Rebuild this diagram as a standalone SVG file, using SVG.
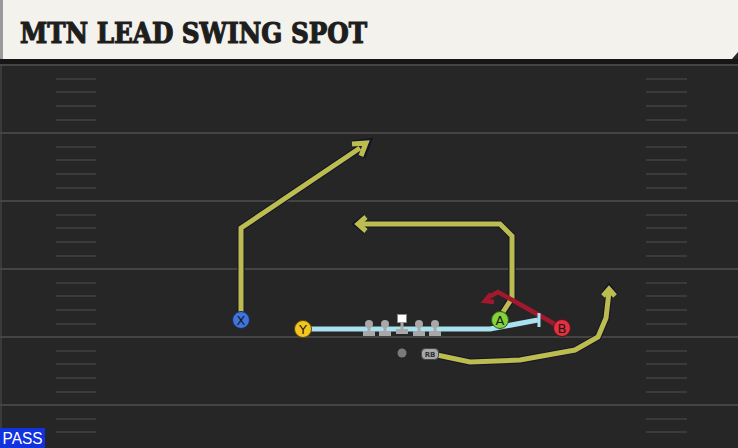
<svg xmlns="http://www.w3.org/2000/svg" width="738" height="448" viewBox="0 0 738 448">
<defs>
<style>
.yl{stroke:#444444;stroke-width:2}
.hash{stroke:#3a3a3a;stroke-width:2}
.out{fill:none;stroke:#15152a;stroke-width:7;stroke-linejoin:miter}
.rt{fill:none;stroke:#bcbd4e;stroke-width:5;stroke-linejoin:miter}
.red{fill:none;stroke:#a3182e;stroke-width:4.5}
.blk{fill:none;stroke:#a9e1f0;stroke-width:5}
.lbl{font-family:"DejaVu Sans",sans-serif;font-size:13px;text-anchor:middle;fill:#1a1a1a}
.ol{fill:#a8a8a8}
</style>
</defs>
<rect width="738" height="448" fill="#262626"/>
<g id="field">
<rect x="0" y="59" width="2" height="389" fill="#3a3a3a"/>
<line class="yl" x1="0" x2="738" y1="65" y2="65"/>
<line class="yl" x1="0" x2="738" y1="133" y2="133"/>
<line class="yl" x1="0" x2="738" y1="201" y2="201"/>
<line class="yl" x1="0" x2="738" y1="269" y2="269"/>
<line class="yl" x1="0" x2="738" y1="337" y2="337"/>
<line class="yl" x1="0" x2="738" y1="405" y2="405"/>
<g class="hash">
<path d="M56 79H96M56 92H96M56 106H96M56 120H96M56 147H96M56 160H96M56 174H96M56 188H96M56 215H96M56 228H96M56 242H96M56 256H96M56 283H96M56 296H96M56 310H96M56 324H96M56 351H96M56 364H96M56 378H96M56 392H96M56 419H96M56 432H96"/>
<path d="M646 79H687M646 92H687M646 106H687M646 120H687M646 147H687M646 160H687M646 174H687M646 188H687M646 215H687M646 228H687M646 242H687M646 256H687M646 283H687M646 296H687M646 310H687M646 324H687M646 351H687M646 364H687M646 378H687M646 392H687M646 419H687M646 432H687"/>
</g>
</g>
<g id="title">
<rect x="0" y="59" width="738" height="5" fill="#161616"/>
<path d="M0 0H738V52L732 59H0Z" fill="#f4f2ec"/>
<rect x="0" y="0" width="3" height="59" fill="#9a9a9a"/>
<text x="20" y="43" font-family="'DejaVu Serif',serif" font-weight="bold" font-size="28" fill="#1e1e1e" stroke="#1e1e1e" stroke-width="1.2" textLength="347" lengthAdjust="spacingAndGlyphs">MTN LEAD SWING SPOT</text>
</g>
<g id="connectors">
<g id="route-x">
<path class="out" d="M241 312V228L360 148"/>
<path class="out" d="M352 144L368 142L362 157"/>
<path class="rt" d="M241 312V228L360 148"/>
<path class="rt" d="M352 144L366 143L361 156"/>
</g>
<g id="route-a">
<path class="out" d="M503 312L512 298V236L500 224H360"/>
<path class="out" d="M366 217L357 224L366 231"/>
<path class="rt" d="M503 312L512 298V236L500 224H360"/>
<path class="rt" d="M366 217L358 224L366 231"/>
</g>
<g id="route-rb">
<path class="out" d="M437 355L470 362L520 360L575 350L598 337L606 318L609 292"/>
<path class="out" d="M603 296L609 288L615 296"/>
<path class="rt" d="M437 355L470 362L520 360L575 350L598 337L606 318L609 292"/>
<path class="rt" d="M603 296L609 289L615 296"/>
</g>
<g id="route-b">
<path class="red" d="M560 327L498 292L487 298"/>
<path class="red" d="M491 294L485 301L494 302"/>
</g>
<g id="block-y">
<path class="blk" d="M303 329H490L538 320"/>
<path d="M539 313V327" stroke="#a9e1f0" stroke-width="3"/>
</g>
</g>
<g id="oline">
<g id="lt"><circle class="ol" cx="369" cy="324" r="4"/><rect class="ol" x="367.5" y="324" width="3" height="8"/><rect class="ol" x="363" y="331" width="12" height="5"/></g>
<g id="lg"><circle class="ol" cx="385" cy="324" r="4"/><rect class="ol" x="383.5" y="324" width="3" height="8"/><rect class="ol" x="379" y="331" width="12" height="5"/></g>
<g id="c"><rect x="397.5" y="314.5" width="9" height="8" fill="#ffffff" stroke="#888" stroke-width="1"/><rect class="ol" x="400.5" y="322" width="3" height="8"/><rect class="ol" x="396" y="329" width="12" height="5"/></g>
<g id="rg"><circle class="ol" cx="419" cy="324" r="4"/><rect class="ol" x="417.5" y="324" width="3" height="8"/><rect class="ol" x="413" y="331" width="12" height="5"/></g>
<g id="rt"><circle class="ol" cx="435" cy="324" r="4"/><rect class="ol" x="433.5" y="324" width="3" height="8"/><rect class="ol" x="429" y="331" width="12" height="5"/></g>
</g>
<g id="qb"><circle cx="402" cy="353" r="4.5" fill="#7a7a7a"/></g>
<g id="rb"><rect x="421.5" y="348.5" width="17" height="11" rx="4" fill="#a8a8a8" stroke="#444" stroke-width="1"/><text x="430" y="357" font-family="'DejaVu Sans',sans-serif" font-size="7" font-weight="bold" text-anchor="middle" fill="#333">RB</text></g>
<g id="x"><circle cx="241" cy="320" r="8.5" fill="#3f74dc" stroke="#1a2a55" stroke-width="1"/><text class="lbl" x="241" y="325">X</text></g>
<g id="y"><circle cx="303" cy="329" r="8.5" fill="#f3c51e" stroke="#5a4a10" stroke-width="1"/><text class="lbl" x="303" y="334">Y</text></g>
<g id="a"><circle cx="500" cy="320" r="8.5" fill="#84d23c" stroke="#2e5a14" stroke-width="1"/><text class="lbl" x="500" y="325">A</text></g>
<g id="b"><circle cx="562" cy="328" r="8.5" fill="#e2303f" stroke="#5a1018" stroke-width="1"/><text class="lbl" x="562" y="333">B</text></g>
<g id="pass"><rect x="0" y="428" width="45" height="20" fill="#1232e0"/><text x="22.5" y="444" font-family="'Liberation Sans',sans-serif" font-size="16" text-anchor="middle" fill="#ffffff" textLength="40" lengthAdjust="spacingAndGlyphs">PASS</text></g>
</svg>
